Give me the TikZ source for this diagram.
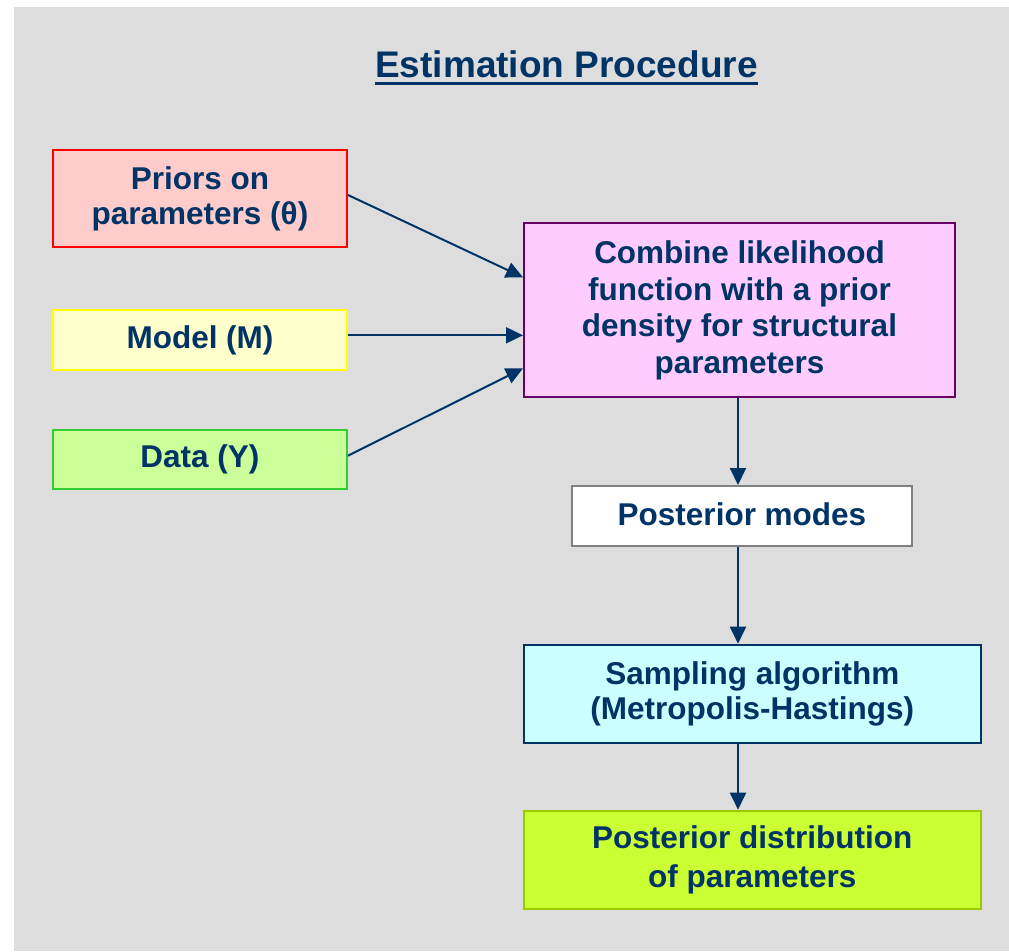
\documentclass[tikz,border=0pt]{standalone}
\usepackage{fontspec}
\setmainfont{Liberation Sans}
\usetikzlibrary{arrows.meta,calc}
\definecolor{bgc}{HTML}{DDDDDD}
\definecolor{txt}{HTML}{003366}
\definecolor{priorfill}{HTML}{FFCCCC}
\definecolor{priordraw}{HTML}{FF0000}
\definecolor{modelfill}{HTML}{FFFFCC}
\definecolor{modeldraw}{HTML}{FFFF00}
\definecolor{datafill}{HTML}{CCFF99}
\definecolor{datadraw}{HTML}{33CC33}
\definecolor{combfill}{HTML}{FFCCFF}
\definecolor{combdraw}{HTML}{660066}
\definecolor{modesdraw}{HTML}{808080}
\definecolor{sampfill}{HTML}{CCFFFF}
\definecolor{sampdraw}{HTML}{003366}
\definecolor{distfill}{HTML}{CCFF33}
\definecolor{distdraw}{HTML}{99CC00}
\tikzset{
  box/.style={draw, line width=2pt, inner sep=0pt, align=center, text=txt,
    font=\bfseries\fontsize{31.5}{34}\selectfont},
  arr/.style={draw=txt, line width=2pt, -{Triangle[length=17pt,width=16pt]}}
}
\begin{document}
\begin{tikzpicture}[x=1pt,y=-1pt]
\useasboundingbox (0,0) rectangle (1009,951);
\fill[bgc] (14,7) rectangle (1009,951);

\node[anchor=base, inner sep=0pt, text=txt, font=\bfseries\fontsize{37}{40}\selectfont] (title) at (566.5,77) {Estimation Procedure};
\draw[txt, line width=3pt] ([yshift=-6.5pt]title.base west) -- ([yshift=-6.5pt]title.base east);

\node[box, fill=priorfill, draw=priordraw, minimum width=294pt, minimum height=97pt,
  font=\bfseries\fontsize{31.5}{35}\selectfont] (priors) at (200,198.5) {Priors on\\parameters (θ)};
\node[box, fill=modelfill, draw=modeldraw, minimum width=294pt, minimum height=60pt] (model) at (200,340) {Model (M)};
\node[box, fill=datafill, draw=datadraw, minimum width=294pt, minimum height=59.5pt] (data) at (200,459.7) {Data (Y)};

\node[box, fill=combfill, draw=combdraw, minimum width=431pt, minimum height=174pt,
  font=\bfseries\fontsize{31.5}{36.5}\selectfont] (comb) at (739.5,310.3)
  {Combine likelihood\\function with a prior\\density for structural\\parameters};

\node[box, fill=white, draw=modesdraw, minimum width=340pt, minimum height=60pt] (modes) at (742,516) {\raisebox{3pt}{Posterior modes}};
\node[box, fill=sampfill, draw=sampdraw, minimum width=456.7pt, minimum height=98.6pt,
  font=\bfseries\fontsize{31.5}{35}\selectfont] (samp) at (752.3,694) {Sampling algorithm\\(Metropolis-Hastings)};
\node[box, fill=distfill, draw=distdraw, minimum width=456.7pt, minimum height=98pt,
  font=\bfseries\fontsize{31.5}{39}\selectfont] (dist) at (752.3,859.7) {Posterior distribution\\of parameters};

\coordinate (c1) at ([yshift=33pt]comb.west);
\coordinate (c2) at ([yshift=-25pt]comb.west);
\coordinate (c3) at ([yshift=-58pt]comb.west);
\draw[arr] ([yshift=3.5pt]priors.east) -- (c1);
\draw[arr] (model.east |- c2) -- (c2);
\draw[arr] ([yshift=4pt]data.east) -- (c3);

\draw[arr] ([xshift=-1.5pt]comb.south) -- ([xshift=-1.5pt]comb.south |- modes.north);
\draw[arr] ([xshift=-1.5pt]comb.south |- modes.south) -- ([xshift=-1.5pt]comb.south |- samp.north);
\draw[arr] ([xshift=-1.5pt]comb.south |- samp.south) -- ([xshift=-1.5pt]comb.south |- dist.north);
\end{tikzpicture}
\end{document}
